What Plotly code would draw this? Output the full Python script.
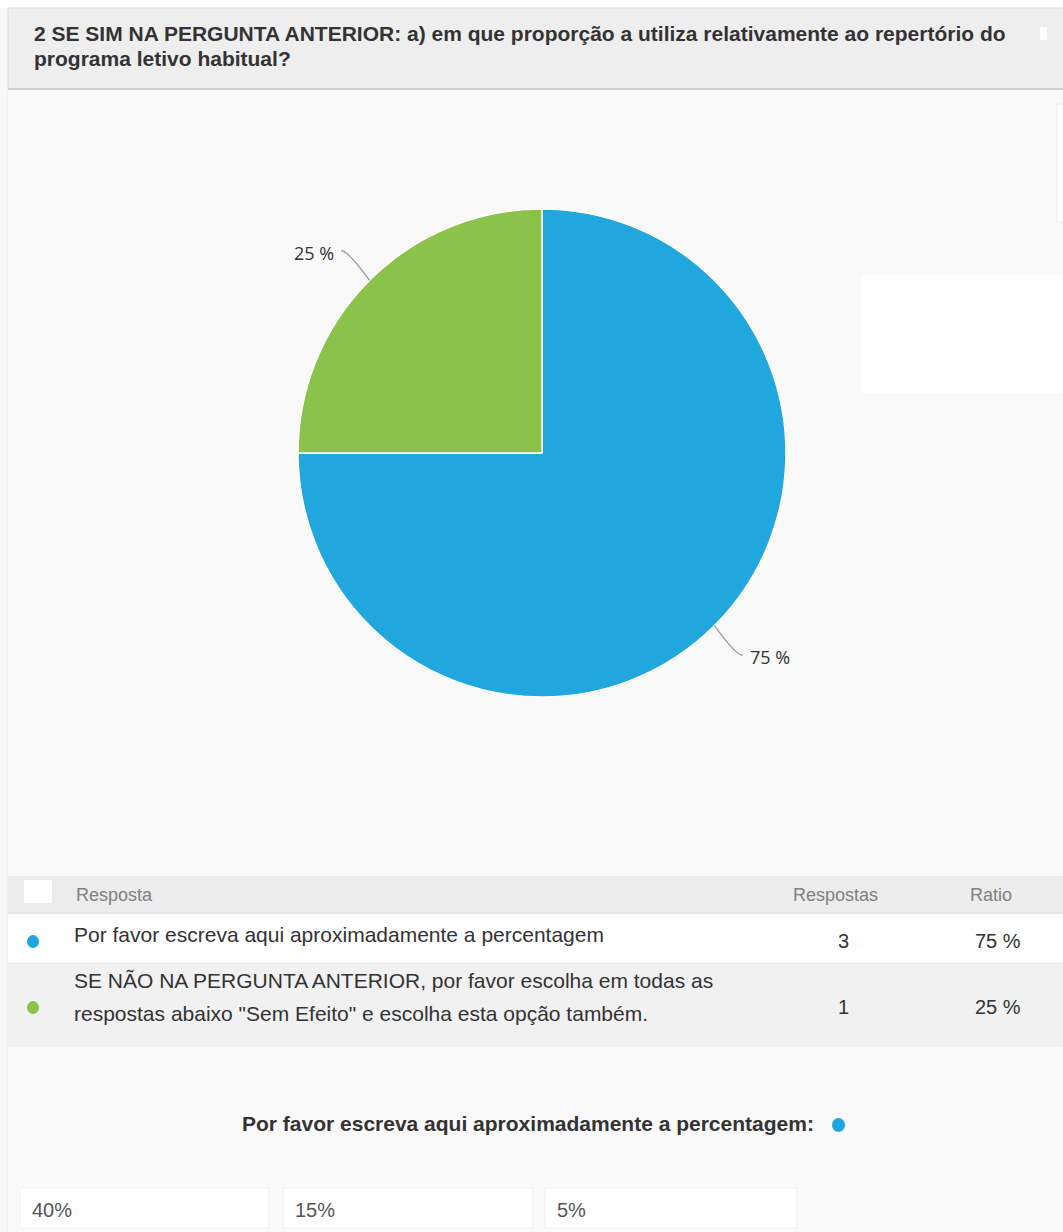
import math
import plotly.graph_objects as go

# ---- data ----
question_title_lines = [
    "2 SE SIM NA PERGUNTA ANTERIOR: a) em que proporção a utiliza relativamente ao repertório do",
    "programa letivo habitual?",
]
answer_labels = [
    ["Por favor escreva aqui aproximadamente a percentagem"],
    ["SE NÃO NA PERGUNTA ANTERIOR, por favor escolha em todas as",
     "respostas abaixo \"Sem Efeito\" e escolha esta opção também."],
]
answer_counts = [3, 1]
answer_colors = ["#20a8de", "#8bc34a"]
table_headers = ["Resposta", "Respostas", "Ratio"]
free_text_header = "Por favor escreva aqui aproximadamente a percentagem:"
free_text_answers = ["40%", "15%", "5%"]

W, H = 1063, 1232
total = sum(answer_counts)
ratios = [c / total for c in answer_counts]


def px(x):
    return x / W


def py(y):
    return 1 - y / H


FONT = "Liberation Sans, Arial, sans-serif"
LABEL_FONT = "Open Sans, sans-serif"

# pie geometry (pixels)
cx, cy, R = 542, 453, 244

fig = go.Figure()
fig.add_trace(go.Pie(
    values=answer_counts,
    labels=["Resposta 1", "Resposta 2"],
    marker=dict(colors=answer_colors, line=dict(color="#ffffff", width=1.5)),
    sort=False,
    direction="clockwise",
    rotation=0,
    textinfo="none",
    hoverinfo="label+percent",
    showlegend=False,
    domain=dict(x=[px(cx - R), px(cx + R)], y=[py(cy + R), py(cy - R)]),
))

shapes = []
annotations = []


def text(x, y, s, size, color="#333333", anchor="left", family=FONT):
    annotations.append(dict(
        x=px(x), y=py(y), xref="paper", yref="paper", text=s, showarrow=False,
        xanchor=anchor, yanchor="middle", align="left",
        font=dict(family=family, size=size, color=color),
    ))


# page background areas
shapes += [
    dict(type="rect", xref="paper", yref="paper", x0=0, x1=1, y0=py(H), y1=py(8),
         fillcolor="#f9f9f9", line=dict(width=0), layer="below"),
    dict(type="line", xref="paper", yref="paper", x0=px(7), x1=px(7), y0=py(H), y1=py(90),
         line=dict(color="#ebebeb", width=1), layer="below"),
    # question header box
    dict(type="rect", xref="paper", yref="paper", x0=px(8), x1=px(1064), y0=py(89), y1=py(8),
         fillcolor="#eeeeee", line=dict(color="#dadada", width=1), layer="below"),
    dict(type="line", xref="paper", yref="paper", x0=px(8), x1=px(1063), y0=py(89), y1=py(89),
         line=dict(color="#cfcfcf", width=2), layer="below"),
    dict(type="rect", xref="paper", yref="paper", x0=px(1040), x1=px(1047), y0=py(40), y1=py(27),
         fillcolor="#ffffff", line=dict(width=0)),
    # white panels on the right
    dict(type="rect", xref="paper", yref="paper", x0=px(1057), x1=px(1064), y0=py(222), y1=py(104),
         fillcolor="#ffffff", line=dict(color="#eeeeee", width=1), layer="below"),
    dict(type="rect", xref="paper", yref="paper", x0=px(861), x1=px(1063), y0=py(393), y1=py(275),
         fillcolor="#ffffff", line=dict(width=0), layer="below"),
    # table rows
    dict(type="rect", xref="paper", yref="paper", x0=px(8), x1=px(1063), y0=py(913), y1=py(876),
         fillcolor="#ececec", line=dict(width=0), layer="below"),
    dict(type="rect", xref="paper", yref="paper", x0=px(8), x1=px(1063), y0=py(963), y1=py(913),
         fillcolor="#ffffff", line=dict(width=0), layer="below"),
    dict(type="rect", xref="paper", yref="paper", x0=px(8), x1=px(1063), y0=py(1047), y1=py(963),
         fillcolor="#f1f1f1", line=dict(width=0), layer="below"),
    dict(type="line", xref="paper", yref="paper", x0=px(8), x1=px(1063), y0=py(913), y1=py(913),
         line=dict(color="#e0e0e0", width=1.5), layer="below"),
    dict(type="line", xref="paper", yref="paper", x0=px(8), x1=px(1063), y0=py(963), y1=py(963),
         line=dict(color="#e6e6e6", width=1), layer="below"),
    dict(type="rect", xref="paper", yref="paper", x0=px(24), x1=px(52), y0=py(903), y1=py(880),
         fillcolor="#ffffff", line=dict(width=0)),
]

# leader lines and percentage labels at each slice's mid-angle
start = 0.0
for r in ratios:
    mid = (start + r / 2) * 2 * math.pi  # clockwise from 12 o'clock
    start += r
    ux, uy = math.sin(mid), -math.cos(mid)
    side = 1 if ux >= 0 else -1
    ex, ey = cx + R * ux, cy + R * uy
    kx, ky = cx + (R + 30) * ux, cy + (R + 42) * uy
    endx = kx + side * 7
    shapes.append(dict(
        type="path", xref="paper", yref="paper",
        path=f"M {px(ex)},{py(ey)} Q {px(kx)},{py(ky)} {px(endx)},{py(ky)}",
        line=dict(color="#9a9a9a", width=1.3),
    ))
    text(endx + side * 5, ky + 2, f"{round(r * 100)} %", 18,
         anchor="left" if side > 0 else "right", family=LABEL_FONT)

# question title
text(32, 33, f"<b>{question_title_lines[0]}</b>", 21)
text(32, 59, f"<b>{question_title_lines[1]}</b>", 21)

# table header
hdr_color = "#808080"
text(74, 895, table_headers[0], 18, hdr_color)
text(835, 895, table_headers[1], 18, hdr_color, anchor="center")
text(991, 895, table_headers[2], 18, hdr_color, anchor="center")

# table rows
row_mid = [941, 1007]
for lines, count, ratio, color, ym in zip(answer_labels, answer_counts, ratios, answer_colors, row_mid):
    shapes.append(dict(type="circle", xref="paper", yref="paper",
                       x0=px(27), x1=px(39), y0=py(ym + 7), y1=py(ym - 6),
                       fillcolor=color, line=dict(width=0)))
    first = ym - 7 if len(lines) == 1 else ym - 27
    for i, line in enumerate(lines):
        text(72, first + i * 33, line, 21)
    text(843, ym, str(count), 20, anchor="center")
    text(998, ym, f"{round(ratio * 100)} %", 20, anchor="center")

# free-text answers section
text(240, 1123, f"<b>{free_text_header}</b>", 21)
shapes.append(dict(type="circle", xref="paper", yref="paper",
                   x0=px(832), x1=px(845), y0=py(1132), y1=py(1118),
                   fillcolor=answer_colors[0], line=dict(width=0)))

box_edges = [(20, 269), (283, 533), (545, 797)]
for txt, (bx0, bx1) in zip(free_text_answers, box_edges):
    shapes.append(dict(type="rect", xref="paper", yref="paper",
                       x0=px(bx0), x1=px(bx1), y0=py(1228), y1=py(1188),
                       fillcolor="#ffffff", line=dict(color="#efefef", width=1)))
    text(bx0 + 10, 1210, txt, 20, "#555555")

fig.update_layout(
    width=W, height=H,
    margin=dict(l=0, r=0, t=0, b=0),
    paper_bgcolor="#ffffff",
    plot_bgcolor="#ffffff",
    shapes=shapes,
    annotations=annotations,
)

fig.write_html("out.html")
